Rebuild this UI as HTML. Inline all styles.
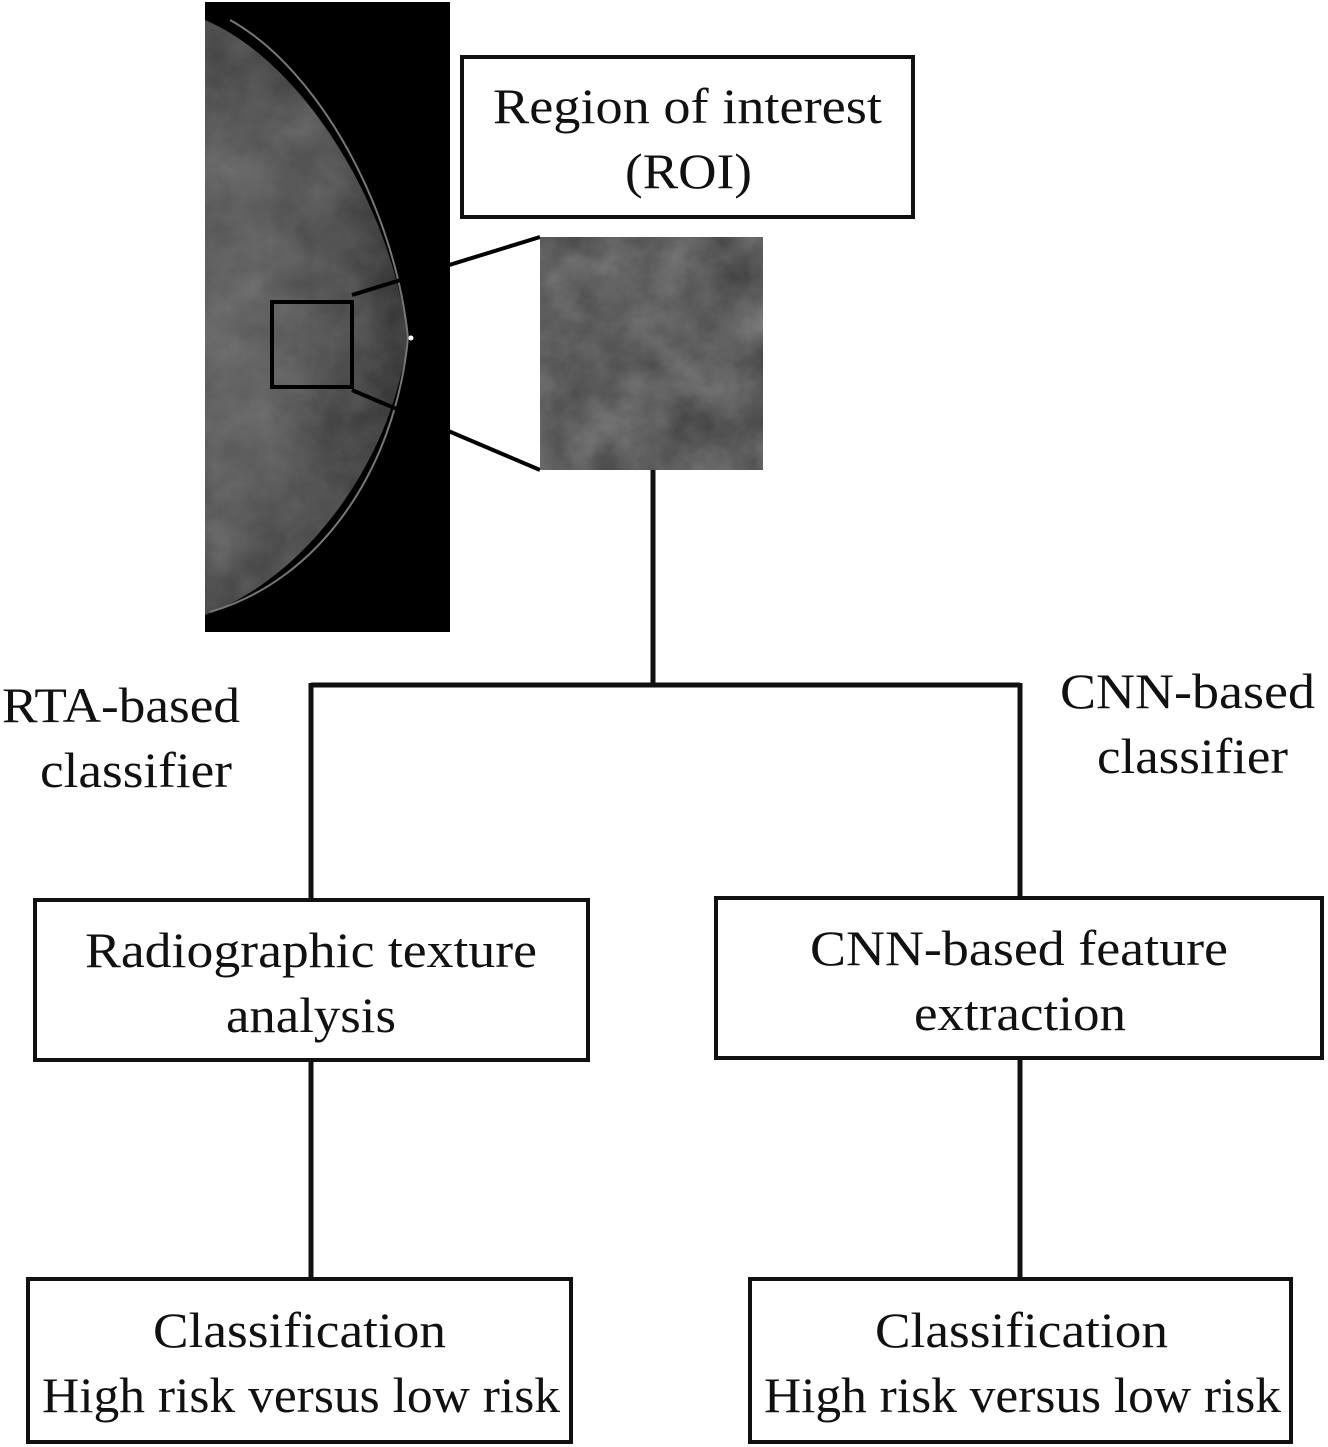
<!DOCTYPE html>
<html><head><meta charset="utf-8"><style>
html,body{margin:0;padding:0;background:#fff;}
svg{display:block;}
text{font-family:"Liberation Serif",serif;font-size:50px;fill:#111;}
</style></head><body>
<svg width="1328" height="1447" viewBox="0 0 1328 1447">
<defs>
<filter id="tex" x="0" y="0" width="100%" height="100%">
<feTurbulence type="fractalNoise" baseFrequency="0.02" numOctaves="4" seed="3"/>
<feColorMatrix type="matrix" values="0 0 0 0 0.45  0 0 0 0 0.45  0 0 0 0 0.45  0.6 0.6 0 0 -0.2"/>
</filter>
<radialGradient id="br" cx="0.2" cy="0.5" r="0.8">
<stop offset="0" stop-color="#5a5a5a"/><stop offset="0.6" stop-color="#3e3e3e"/><stop offset="1" stop-color="#222"/>
</radialGradient>
<clipPath id="bc"><path d="M205 20 C300 60 390 200 408 338 C390 470 300 580 205 615 Z"/></clipPath>
</defs>
<rect x="205" y="2" width="245" height="630" fill="#000"/>
<path d="M205 20 C300 60 390 200 408 338 C390 470 300 580 205 615 Z" fill="url(#br)"/>
<g clip-path="url(#bc)"><rect x="205" y="20" width="205" height="595" filter="url(#tex)" opacity="0.45"/></g>
<path d="M230 20 C320 70 395 210 408 338 C395 470 320 580 210 612" fill="none" stroke="#777" stroke-width="2"/>
<circle cx="411" cy="338" r="2.5" fill="#fff"/>
<rect x="272" y="302" width="80" height="85" fill="none" stroke="#000" stroke-width="4"/>
<line x1="352" y1="295" x2="540" y2="237" stroke="#000" stroke-width="4"/>
<line x1="352" y1="390" x2="540" y2="470" stroke="#000" stroke-width="4"/>
<rect x="540" y="237" width="223" height="233" fill="#3e3e3e"/>
<rect x="540" y="237" width="223" height="233" filter="url(#tex)" opacity="0.7"/>
<rect x="462" y="57" width="451" height="160" fill="#fff" stroke="#111" stroke-width="4"/>
<text x="493" y="123" textLength="389" lengthAdjust="spacingAndGlyphs">Region of interest</text>
<text x="625" y="188" textLength="127" lengthAdjust="spacingAndGlyphs">(ROI)</text>
<g stroke="#111" stroke-width="5" fill="none">
<line x1="653" y1="470" x2="653" y2="685"/>
<line x1="311" y1="685" x2="1020" y2="685"/>
<line x1="311" y1="683" x2="311" y2="898"/>
<line x1="1020" y1="683" x2="1020" y2="898"/>
<line x1="311" y1="1060" x2="311" y2="1279"/>
<line x1="1020" y1="1058" x2="1020" y2="1279"/>
</g>
<g fill="#fff" stroke="#111" stroke-width="4">
<rect x="35" y="900" width="553" height="160"/>
<rect x="716" y="898" width="606" height="160"/>
<rect x="28" y="1279" width="543" height="163"/>
<rect x="750" y="1279" width="541" height="163"/>
</g>
<text x="2" y="722" textLength="238" lengthAdjust="spacingAndGlyphs">RTA-based</text>
<text x="40" y="787" textLength="192" lengthAdjust="spacingAndGlyphs">classifier</text>
<text x="1060" y="708" textLength="255" lengthAdjust="spacingAndGlyphs">CNN-based</text>
<text x="1097" y="773" textLength="191" lengthAdjust="spacingAndGlyphs">classifier</text>
<text x="85" y="967" textLength="452" lengthAdjust="spacingAndGlyphs">Radiographic  texture</text>
<text x="226" y="1032" textLength="170" lengthAdjust="spacingAndGlyphs">analysis</text>
<text x="810" y="965" textLength="418" lengthAdjust="spacingAndGlyphs">CNN-based feature</text>
<text x="914" y="1030" textLength="212" lengthAdjust="spacingAndGlyphs">extraction</text>
<text x="153" y="1347" textLength="293" lengthAdjust="spacingAndGlyphs">Classification</text>
<text x="42" y="1412" textLength="518" lengthAdjust="spacingAndGlyphs">High risk versus low risk</text>
<text x="875" y="1347" textLength="293" lengthAdjust="spacingAndGlyphs">Classification</text>
<text x="764" y="1412" textLength="517" lengthAdjust="spacingAndGlyphs">High risk versus low risk</text>
</svg>
</body></html>
